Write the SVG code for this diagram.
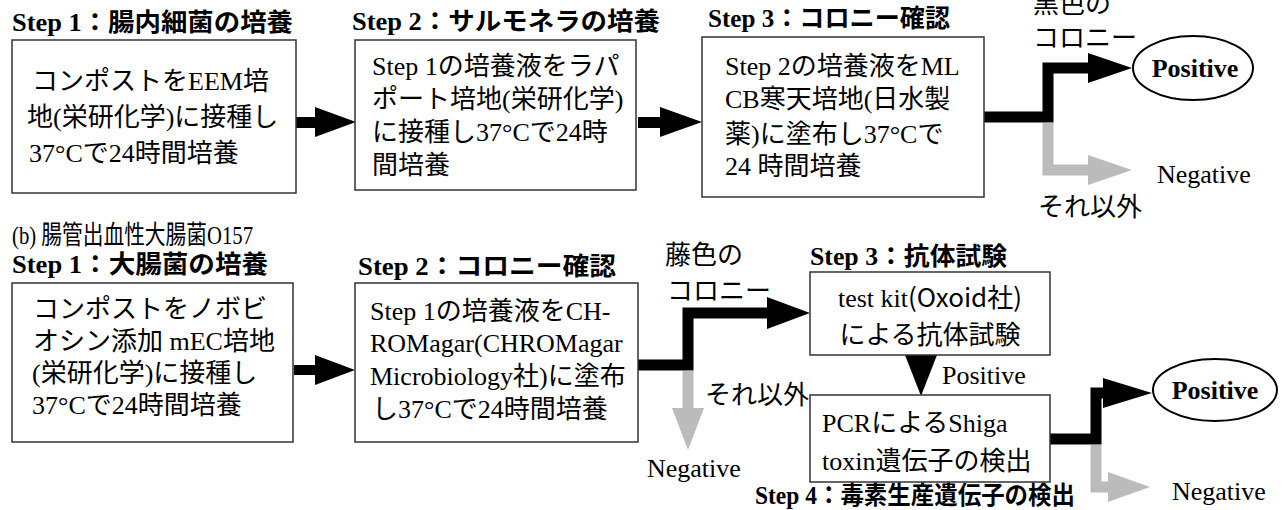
<svg xmlns="http://www.w3.org/2000/svg" width="1286" height="510" viewBox="0 0 1286 510">
<style>
.t{font-family:'Liberation Serif','Noto Sans CJK JP',serif;font-size:26px;fill:#000}
.h{font-family:'Liberation Serif','Noto Sans CJK JP',serif;font-size:25px;font-weight:bold;fill:#000}
.j{font-family:'Noto Sans CJK JP',sans-serif}
.box{fill:#fff;stroke:#333;stroke-width:1.5}
.blk{fill:none;stroke:#000;stroke-width:11;stroke-linejoin:miter}
.gry{fill:none;stroke:#bbb;stroke-width:11;stroke-linejoin:miter}
.ell{fill:#fff;stroke:#000;stroke-width:2}
.hb{fill:#000}
.hg{fill:#bbb}
</style>
<rect width="1286" height="510" fill="#fff"/>

<g id="connectors">
  <polygon class="hb" points="294,117 315,117 315,107 356,122 315,137 315,128 294,128"/>
  <polygon class="hb" points="638,117 660,117 660,107 702,122 660,137 660,128 638,128"/>
  <polyline class="blk" points="984,117 1048,117 1048,68 1090,68"/>
  <polygon class="hb" points="1088,53 1132,68 1088,83"/>
  <polyline class="gry" points="1048,123 1048,170 1090,170"/>
  <polygon class="hg" points="1088,155 1132,170 1088,185"/>
  <polygon class="hb" points="294,365 315,365 315,355 355,370 315,385 315,375 294,375"/>
  <polyline class="blk" points="638,365 688,365 688,313 770,313"/>
  <polygon class="hb" points="767,297 810,313 767,329"/>
  <polyline class="gry" points="688,371 688,410"/>
  <polygon class="hg" points="672,408 688,450 704,408"/>
  <polygon class="hb" points="905,355 937,355 921,396"/>
  <polyline class="blk" points="1050,439 1096,439 1096,393 1105,393"/>
  <polygon class="hb" points="1103,378 1152,393 1103,408"/>
  <polyline class="gry" points="1096,445 1096,487 1110,487"/>
  <polygon class="hg" points="1108,472 1150,487 1108,502"/>
</g>

<g id="title1"><text class="h" x="12" y="31" textLength="281" lengthAdjust="spacingAndGlyphs">Step 1：腸内細菌の培養</text></g>
<g id="title2"><text class="h" x="352" y="30" textLength="308" lengthAdjust="spacingAndGlyphs">Step 2：サルモネラの培養</text></g>
<g id="title3"><text class="h" x="708" y="27" textLength="242" lengthAdjust="spacingAndGlyphs">Step 3：コロニー確認</text></g>

<g id="box1">
  <rect class="box" x="12" y="40" width="284" height="153"/>
  <text class="t" x="32" y="90" font-size="26.5">コンポストをEEM培</text>
  <text class="t" x="27" y="126" font-size="26.5">地(栄研化学)に接種し</text>
  <text class="t" x="29" y="162" font-size="26.5">37°Cで24時間培養</text>
</g>
<g id="box2">
  <rect class="box" x="355" y="40" width="281" height="150"/>
  <text class="t" x="372" y="75" font-size="25.5">Step 1の培養液をラパ</text>
  <text class="t" x="372" y="108" font-size="25.5">ポート培地(栄研化学)</text>
  <text class="t" x="372" y="141" font-size="25.5">に接種し37°Cで24時</text>
  <text class="t" x="372" y="174" font-size="25.5">間培養</text>
</g>
<g id="box3">
  <rect class="box" x="702" y="37" width="282" height="160"/>
  <text class="t" x="725" y="75" font-size="24">Step 2の培養液をML</text>
  <text class="t" x="725" y="108" font-size="24">CB寒天培地(日水製</text>
  <text class="t" x="725" y="143" font-size="24">薬)に塗布し37°Cで</text>
  <text class="t" x="725" y="175" font-size="24">24 時間培養</text>
</g>
<g id="labels-top">
  <text class="t" x="1033" y="13" font-size="24">黒色の</text>
  <text class="t" x="1033" y="47" font-size="24">コロニー</text>
  <text class="t" x="1157" y="183">Negative</text>
  <text class="t" x="1038" y="216" font-size="24">それ以外</text>
</g>
<g id="positive1">
  <ellipse class="ell" cx="1193" cy="68" rx="60" ry="32"/>
  <text class="t" x="1195" y="77" text-anchor="middle" font-weight="bold">Positive</text>
</g>

<g id="section-b"><text class="t" x="12" y="244" font-size="22" textLength="241" lengthAdjust="spacingAndGlyphs">(b) 腸管出血性大腸菌O157</text></g>
<g id="title4"><text class="h" x="12" y="273" textLength="256" lengthAdjust="spacingAndGlyphs">Step 1：大腸菌の培養</text></g>
<g id="title5"><text class="h" x="358" y="275" textLength="258" lengthAdjust="spacingAndGlyphs">Step 2：コロニー確認</text></g>
<g id="title6"><text class="h" x="810" y="265" textLength="197" lengthAdjust="spacingAndGlyphs">Step 3：抗体試験</text></g>
<g id="title7"><text class="h" x="755" y="504" textLength="320" lengthAdjust="spacingAndGlyphs">Step 4：毒素生産遺伝子の検出</text></g>

<g id="box4">
  <rect class="box" x="12" y="283" width="281" height="159"/>
  <text class="t" x="33" y="318">コンポストをノボビ</text>
  <text class="t" x="33" y="350">オシン添加 mEC培地</text>
  <text class="t" x="32" y="382">(栄研化学)に接種し</text>
  <text class="t" x="32" y="414">37°Cで24時間培養</text>
</g>
<g id="box5">
  <rect class="box" x="355" y="283" width="283" height="159"/>
  <text class="t" x="370" y="320">Step 1の培養液をCH-</text>
  <text class="t" x="370" y="352">ROMagar(CHROMagar</text>
  <text class="t" x="370" y="385">Microbiology社)に塗布</text>
  <text class="t" x="372" y="418">し37°Cで24時間培養</text>
</g>
<g id="labels-mid">
  <text class="t" x="665" y="264" font-size="24">藤色の</text>
  <text class="t" x="667" y="300" font-size="24">コロニー</text>
  <text class="t" x="705" y="404" font-size="24">それ以外</text>
  <text class="t" x="647" y="477">Negative</text>
</g>
<g id="box6">
  <rect class="box" x="810" y="272" width="240" height="83"/>
  <text class="t" x="930" y="307" text-anchor="middle">test kit<tspan class="j">(Oxoid社)</tspan></text>
  <text class="t" x="930" y="344" text-anchor="middle">による抗体試験</text>
</g>
<g id="label-positive"><text class="t" x="942" y="384">Positive</text></g>
<g id="box7">
  <rect class="box" x="810" y="395" width="240" height="87"/>
  <text class="t" x="822" y="432">PCRによるShiga</text>
  <text class="t" x="822" y="470">toxin遺伝子の検出</text>
</g>
<g id="positive2">
  <ellipse class="ell" cx="1215" cy="390" rx="62" ry="31"/>
  <text class="t" x="1215" y="399" text-anchor="middle" font-weight="bold">Positive</text>
</g>
<g id="label-neg2"><text class="t" x="1172" y="500">Negative</text></g>
</svg>
